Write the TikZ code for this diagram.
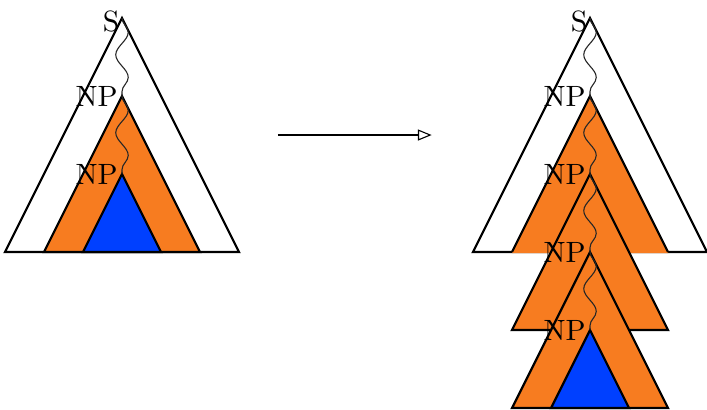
\documentclass[tikz,border=0pt]{standalone}
\usepackage{tikz}
\usetikzlibrary{
  arrows.meta,              % 空心三角箭头
  calc,                     % 坐标计算
  decorations.pathmorphing  % 波浪线（推导路径）
}
\definecolor{npfill}{RGB}{247,124,32}
\definecolor{leaffill}{RGB}{0,64,255}

\begin{document}
\begin{tikzpicture}[x=1cm, y=1cm]
  \tikzset{
    tri/.style={line width=0.8pt},
    deriv/.style={decorate, decoration={snake, amplitude=0.8mm, segment length=5.8mm},
      line width=0.4pt, black!85},
    lbl/.style={anchor=base east, inner sep=0pt, font=\fontsize{10.7}{13}\selectfont},
  }
  \useasboundingbox (-1.564, -5.013) rectangle (7.5, 0.231);
  \def\shift{6}

  % 左边：原来的树
  \coordinate (s) at (0, 0);
  \coordinate (np1) at (0, -1);
  \coordinate (np2) at (0, -2);
  \draw[tri, fill=white] (s) -- ++(-1.5, -3) -- ++(3, 0) -- cycle;
  \draw[tri, fill=npfill] (np1) -- ++(-1, -2) -- ++(2, 0) -- cycle;
  \draw[tri, fill=leaffill] (np2) -- ++(-0.5, -1) -- ++(1, 0) -- cycle;
  \draw[deriv] (s) -- (np1);
  \draw[deriv] (np1) -- (np2);
  \node[lbl] (s-lbl) at ($(s)+(-0.03, -0.17)$) {S};
  \node[lbl] (np1-lbl) at ($(np1)+(-0.05, -0.14)$) {NP};
  \node[lbl] (np2-lbl) at ($(np2)+(-0.05, -0.14)$) {NP};

  % 箭头
  \coordinate (from) at (2, -1.5);
  \coordinate (to) at (3.97, -1.5);
  \draw[-{Triangle[open, length=5pt, width=4pt]}, line width=0.4pt] (from) -- (to);

  % 右边：抽吸后的树
  \coordinate (rs) at (\shift, 0);
  \coordinate (rnp1) at (\shift, -1);
  \coordinate (rnp2) at (\shift, -2);
  \coordinate (rnp3) at (\shift, -3);
  \coordinate (rnp4) at (\shift, -4);
  \draw[tri, fill=white] (rs) -- ++(-1.5, -3) -- ++(3, 0) -- cycle;
  \fill[npfill] (rnp1) -- ++(-1, -2) -- ++(0, -0.4pt) -- ++(2, 0) -- ++(0, 0.4pt) -- cycle;
  \draw[tri] ($(rnp1)+(-1, -2)$) -- (rnp1) -- ++(1, -2);
  \draw[tri, fill=npfill] (rnp2) -- ++(-1, -2) -- ++(2, 0) -- cycle;
  \draw[tri, fill=npfill] (rnp3) -- ++(-1, -2) -- ++(2, 0) -- cycle;
  \draw[tri, fill=leaffill] (rnp4) -- ++(-0.5, -1) -- ++(1, 0) -- cycle;
  \draw[deriv] (rs) -- (rnp1);
  \draw[deriv] (rnp1) -- (rnp2);
  \draw[deriv] (rnp2) -- (rnp3);
  \draw[deriv] (rnp3) -- (rnp4);
  \node[lbl] (rs-lbl) at ($(rs)+(-0.03, -0.17)$) {S};
  \node[lbl] (rnp1-lbl) at ($(rnp1)+(-0.05, -0.14)$) {NP};
  \node[lbl] (rnp2-lbl) at ($(rnp2)+(-0.05, -0.14)$) {NP};
  \node[lbl] (rnp3-lbl) at ($(rnp3)+(-0.05, -0.14)$) {NP};
  \node[lbl] (rnp4-lbl) at ($(rnp4)+(-0.05, -0.14)$) {NP};
\end{tikzpicture}
\end{document}
